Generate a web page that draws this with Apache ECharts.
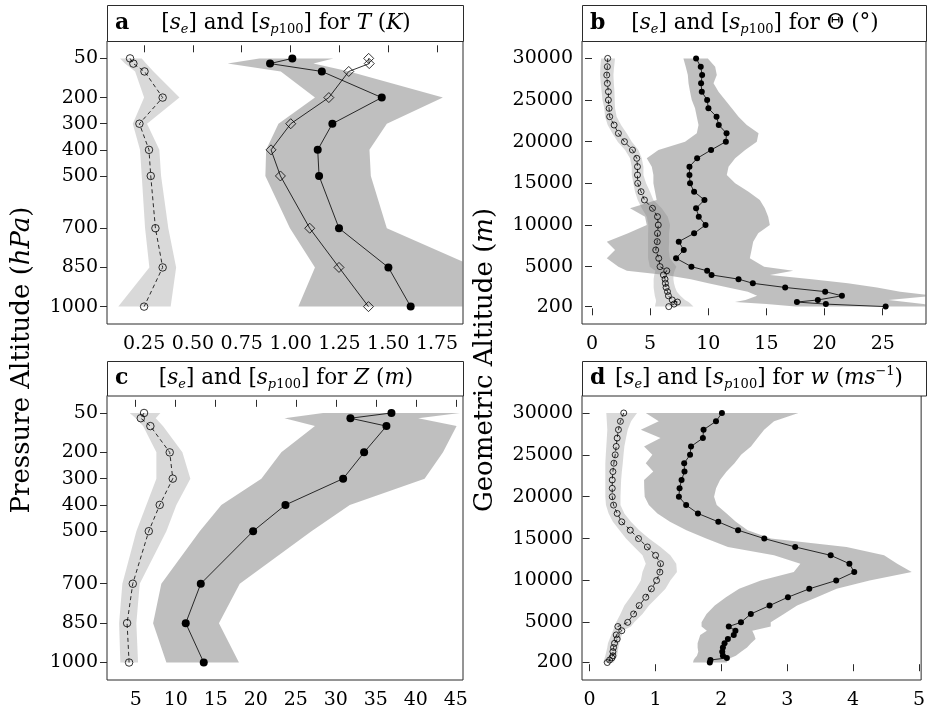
<!DOCTYPE html>
<html>
<head>
<meta charset="utf-8">
<title>Ensemble spread and p100 spread profiles</title>
<script src="https://cdn.jsdelivr.net/npm/echarts@6.0.0/dist/echarts.min.js"></script>
<style>
  html, body { margin: 0; padding: 0; background: #fff; }
  #chart { width: 928px; height: 715px; }
</style>
</head>
<body>
<div id="chart"></div>
<script>
// ---------- vertical levels ----------
const pLevels = [50, 70, 100, 200, 300, 400, 500, 700, 850, 1000];
const altLevels = [30000, 29000, 28000, 27000, 26000, 25000, 24000, 23000, 22000, 21000,
  20000, 19000, 18000, 17000, 16000, 15000, 14000, 13000, 12000, 11000,
  10000, 9000, 8000, 7000, 6000, 5000, 4500, 4000, 3500, 3000,
  2500, 2000, 1500, 1000, 750, 500, 200];

// ---------- tick labels ----------
const pTicks = [50, 200, 300, 400, 500, 700, 850, 1000];
const altTicks = [200, 5000, 10000, 15000, 20000, 25000, 30000];
const tTicks = [0.25, 0.5, 0.75, 1.0, 1.25, 1.5, 1.75];
const thetaTicks = [0, 5, 10, 15, 20, 25];
const zTicks = [5, 10, 15, 20, 25, 30, 35, 40, 45];
const wTicks = [0, 1, 2, 3, 4, 5];

// ---------- a: temperature T (K) ----------
const tSe     = [0.178, 0.195, 0.252, 0.345, 0.226, 0.275, 0.284, 0.308, 0.345, 0.250];
const tSeLo   = [0.127, 0.152, 0.204, 0.250, 0.192, 0.229, 0.238, 0.255, 0.277, 0.118];
const tSeHi   = [0.238, 0.260, 0.298, 0.431, 0.265, 0.328, 0.337, 0.374, 0.414, 0.386];
const tP100   = [1.009, 0.895, 1.160, 1.467, 1.214, 1.139, 1.146, 1.248, 1.501, 1.615];
const tP100d  = [1.400, 1.403, 1.298, 1.196, 1.001, 0.900, 0.948, 1.098, 1.248, 1.399];
const tBandLo = [0.840, 0.678, 0.950, 1.125, 0.938, 0.875, 0.871, 0.997, 1.125, 1.040];
const tBandHi = [1.219, 1.117, 1.300, 1.780, 1.493, 1.404, 1.411, 1.493, 1.950, 1.950];

// ---------- b: direction Theta (deg) ----------
const thSe = [1.35, 1.32, 1.27, 1.32, 1.41, 1.41, 1.47, 1.52, 1.90, 2.27,
  2.79, 3.48, 3.85, 3.91, 3.91, 3.93, 4.22, 4.51, 5.20, 5.63,
  5.70, 5.63, 5.61, 5.48, 5.74, 5.85, 6.43, 6.14, 6.28, 6.31,
  6.37, 6.49, 6.57, 6.90, 7.35, 7.05, 6.60];
const thSeLo = [0.78, 0.72, 0.69, 0.75, 0.83, 0.90, 1.06, 1.12, 1.35, 1.75,
  2.21, 2.84, 3.27, 3.42, 3.42, 3.56, 3.70, 3.93, 4.28, 4.71,
  4.85, 4.82, 4.82, 4.82, 4.82, 4.97, 5.45, 5.35, 5.30, 5.30,
  5.30, 5.35, 5.40, 5.50, 5.50, 5.45, 5.42];
const thSeHi = [1.98, 1.90, 1.84, 1.88, 1.93, 1.95, 1.98, 2.12, 2.50, 2.98,
  3.42, 3.99, 4.28, 4.42, 4.42, 4.65, 4.99, 5.28, 6.00, 6.51,
  6.71, 6.63, 6.63, 6.60, 6.69, 7.26, 7.10, 7.00, 7.00, 7.05,
  7.15, 7.30, 7.60, 8.00, 8.30, 8.50, 8.72];
const thP100 = [8.95, 9.35, 9.47, 9.38, 9.44, 9.90, 10.01, 10.71, 10.90, 11.57,
  11.51, 10.24, 9.04, 8.38, 8.38, 8.43, 8.78, 9.67, 8.95, 9.18,
  9.76, 8.78, 7.46, 7.89, 7.23, 8.55, 9.90, 10.28, 12.60, 13.83,
  16.61, 20.05, 21.49, 19.42, 17.62, 20.11, 25.25];
const thBandLo = [7.86, 8.06, 8.24, 8.30, 8.43, 8.58, 8.86, 9.01, 9.16, 9.01,
  8.00, 5.71, 4.71, 5.14, 5.28, 5.28, 5.42, 5.56, 3.27, 4.56,
  4.71, 3.10, 1.27, 1.98, 1.27, 2.27, 3.00, 6.30, 8.50, 10.00,
  11.70, 13.40, 14.20, 13.20, 12.30, 15.00, 17.50];
const thBandHi = [9.96, 10.59, 10.73, 10.45, 10.88, 11.45, 12.02, 12.60, 13.31, 14.32,
  14.17, 13.17, 12.31, 11.74, 11.59, 12.31, 13.46, 14.43, 14.86, 15.15,
  15.29, 14.29, 13.86, 13.72, 13.57, 14.80, 17.30, 15.30, 18.90, 22.00,
  24.50, 26.50, 29.50, 25.50, 27.00, 28.50, 30.50];

// ---------- c: geopotential height Z (m) ----------
const zSe     = [6.04, 5.63, 6.83, 9.25, 9.63, 8.00, 6.63, 4.63, 3.92, 4.17];
const zSeLo   = [4.25, 5.00, 5.92, 7.58, 7.58, 6.33, 5.08, 3.33, 2.92, 3.08];
const zSeHi   = [8.08, 7.50, 8.40, 10.83, 11.83, 10.08, 8.83, 5.50, 5.08, 5.29];
const zP100   = [36.96, 31.83, 36.33, 33.54, 30.92, 23.71, 19.67, 13.13, 11.25, 13.50];
const zBandLo = [28.42, 23.60, 27.40, 23.20, 20.70, 15.70, 13.00, 8.20, 7.17, 8.83];
const zBandHi = [45.50, 40.30, 45.10, 43.40, 41.10, 31.75, 26.96, 18.00, 15.40, 17.90];

// ---------- d: vertical wind w (m/s) ----------
const wSe = [0.519, 0.468, 0.438, 0.419, 0.404, 0.389, 0.369, 0.354, 0.344, 0.344,
  0.344, 0.364, 0.419, 0.489, 0.618, 0.743, 0.877, 1.002, 1.077, 1.067,
  1.017, 0.938, 0.853, 0.753, 0.668, 0.579, 0.429, 0.489, 0.404, 0.419,
  0.379, 0.364, 0.354, 0.354, 0.339, 0.304, 0.269];
const wSeLo = [0.254, 0.262, 0.269, 0.262, 0.254, 0.246, 0.239, 0.239, 0.239, 0.239,
  0.239, 0.249, 0.289, 0.354, 0.454, 0.553, 0.678, 0.803, 0.853, 0.803,
  0.778, 0.703, 0.618, 0.528, 0.469, 0.404, 0.379, 0.354, 0.329, 0.304,
  0.279, 0.269, 0.254, 0.239, 0.229, 0.220, 0.204];
const wSeHi = [0.720, 0.630, 0.579, 0.553, 0.528, 0.515, 0.504, 0.490, 0.479, 0.474,
  0.469, 0.469, 0.528, 0.628, 0.753, 0.902, 1.077, 1.226, 1.316, 1.326,
  1.226, 1.152, 1.027, 0.902, 0.803, 0.678, 0.628, 0.504, 0.489, 0.469,
  0.454, 0.438, 0.429, 0.419, 0.404, 0.379, 0.370];
const wP100 = [2.009, 1.919, 1.730, 1.720, 1.540, 1.525, 1.436, 1.441, 1.396, 1.366,
  1.356, 1.466, 1.645, 1.954, 2.254, 2.652, 3.121, 3.660, 3.944, 4.018,
  3.744, 3.335, 3.011, 2.732, 2.448, 2.298, 2.113, 2.214, 2.189, 2.099,
  2.049, 2.024, 2.014, 2.024, 2.084, 1.835, 1.825];
const wBandLo = [0.853, 1.050, 0.778, 1.077, 0.827, 0.953, 0.853, 0.967, 0.827, 0.830,
  0.837, 0.900, 1.030, 1.220, 1.470, 1.770, 2.100, 2.800, 3.200, 3.100,
  2.600, 2.270, 2.070, 1.900, 1.775, 1.700, 1.700, 1.780, 1.680, 1.660,
  1.640, 1.640, 1.650, 1.630, 1.600, 1.580, 1.570];
const wBandHi = [3.170, 2.800, 2.650, 2.550, 2.450, 2.300, 2.200, 2.080, 1.980, 1.920,
  1.890, 1.930, 2.080, 2.220, 2.400, 2.750, 3.900, 4.470, 4.670, 4.890,
  4.250, 3.750, 3.450, 3.150, 2.950, 2.750, 2.750, 2.470, 2.500, 2.520,
  2.450, 2.390, 2.300, 2.220, 2.140, 2.100, 2.080];

// ---------- styling ----------
const FONT = 'DejaVu Serif';
const FRAME = '#2b2b2b';
const DARK_FILL = 'rgba(128,128,128,0.5)';
const LIGHT_FILL = 'rgba(128,128,128,0.3)';

// panel layout: plot areas and their title strips
const panels = [
  { left: 107, top: 41,    width: 356, height: 283,   stripTop: 5 },
  { left: 582, top: 41,    width: 344, height: 283,   stripTop: 5 },
  { left: 107, top: 395.5, width: 356, height: 284.5, stripTop: 361 },
  { left: 582, top: 395.5, width: 344, height: 284.5, stripTop: 361 }
];

const tickLabel = { fontFamily: FONT, fontSize: 19, color: '#000' };

function xAxisFor(idx, min, max, ticks, fmt) {
  return {
    type: 'value', gridIndex: idx, min: min, max: max, position: 'bottom',
    axisLine: { show: false },
    splitLine: { show: false },
    axisTick: { show: true, inside: false, length: 7, customValues: ticks,
      lineStyle: { color: FRAME, width: 1 } },
    axisLabel: Object.assign({ customValues: ticks, margin: 11,
      formatter: fmt || (v => String(v)) }, tickLabel)
  };
}

function yAxisFor(idx, min, max, ticks, inverse) {
  return {
    type: 'value', gridIndex: idx, min: min, max: max, inverse: inverse,
    axisLine: { show: false },
    splitLine: { show: false },
    axisTick: { show: true, inside: false, length: 7, customValues: ticks,
      lineStyle: { color: FRAME, width: 1 } },
    axisLabel: Object.assign({ customValues: ticks, margin: 9,
      formatter: v => String(v) }, tickLabel)
  };
}

function pairs(xs, levels) { return xs.map((x, i) => [x, levels[i]]); }

// shaded envelope between a low and a high profile
function band(idx, levels, lo, hi, fill, z) {
  return {
    type: 'custom', xAxisIndex: idx, yAxisIndex: idx, clip: true, silent: true, z: z,
    data: [[lo[0], levels[0]]],
    renderItem: function (params, api) {
      const pts = [];
      for (let i = 0; i < levels.length; i++) pts.push(api.coord([lo[i], levels[i]]));
      for (let i = levels.length - 1; i >= 0; i--) pts.push(api.coord([hi[i], levels[i]]));
      return { type: 'polygon', shape: { points: pts }, style: { fill: fill, stroke: null } };
    }
  };
}

function seLine(idx, xs, levels, size) {
  return {
    type: 'line', xAxisIndex: idx, yAxisIndex: idx, z: 5, silent: true,
    data: pairs(xs, levels),
    symbol: 'circle', symbolSize: size,
    lineStyle: { color: '#000', width: 0.8, type: [4, 3] },
    itemStyle: { color: 'rgba(0,0,0,0)', borderColor: '#000', borderWidth: 0.8 }
  };
}

function solidLine(idx, xs, levels, symbol, size, filled) {
  return {
    type: 'line', xAxisIndex: idx, yAxisIndex: idx, z: 6, silent: true,
    data: pairs(xs, levels),
    symbol: symbol, symbolSize: size,
    lineStyle: { color: '#000', width: 0.8 },
    itemStyle: filled
      ? { color: '#000', borderColor: '#000', borderWidth: 0 }
      : { color: 'rgba(0,0,0,0)', borderColor: '#000', borderWidth: 0.8 }
  };
}

// ---------- title strips ----------
const richBase = {
  n:    { fontFamily: FONT, fontSize: 21.5, fill: '#000', lineHeight: 26 },
  i:    { fontFamily: FONT, fontSize: 21.5, fontStyle: 'italic', fill: '#000', lineHeight: 26 },
  sub:  { fontFamily: FONT, fontSize: 13, fontStyle: 'italic', fill: '#000', verticalAlign: 'bottom', lineHeight: 11 },
  subn: { fontFamily: FONT, fontSize: 13, fill: '#000', verticalAlign: 'bottom', lineHeight: 11 },
  sup:  { fontFamily: FONT, fontSize: 13, fill: '#000', verticalAlign: 'top', lineHeight: 14 }
};
const spreadText = '{n|[}{i|s}{sub|e}{n|] and [}{i|s}{sub|p}{subn|100}{n|] for }';
const panelTitles = [
  { letter: 'a', text: spreadText + '{i|T}{n| (}{i|K}{n|)}', shift: 1 },
  { letter: 'b', text: spreadText + '{n|Θ (°)}', shift: 1 },
  { letter: 'c', text: spreadText + '{i|Z}{n| (}{i|m}{n|)}', shift: 1 },
  { letter: 'd', text: spreadText + '{i|w}{n| (}{i|ms}{sup|−1}{n|)}', shift: 5 }
];

const graphics = [];
panels.forEach((p, k) => {
  const h = p.top - p.stripTop;
  graphics.push({
    type: 'rect', z: 10, silent: true,
    shape: { x: p.left + 0.5, y: p.stripTop + 0.5, width: p.width, height: h },
    style: { fill: '#fff', stroke: FRAME, lineWidth: 1 }
  });
  graphics.push({
    type: 'text', z: 11, silent: true,
    x: p.left + 8, y: p.stripTop + h / 2,
    style: { text: panelTitles[k].letter, fontFamily: FONT, fontSize: 22, fontWeight: 'bold',
      fill: '#000', align: 'left', verticalAlign: 'middle' }
  });
  graphics.push({
    type: 'text', z: 11, silent: true,
    x: p.left + p.width / 2 + panelTitles[k].shift, y: p.stripTop + h / 2,
    style: { text: panelTitles[k].text, rich: richBase, align: 'center', verticalAlign: 'middle' }
  });
});

// shared vertical axis titles
const axisTitleRich = {
  n: { fontFamily: FONT, fontSize: 26, fill: '#000' },
  i: { fontFamily: FONT, fontSize: 26, fontStyle: 'italic', fill: '#000' }
};
graphics.push({
  type: 'text', silent: true, x: 22, y: 360, rotation: Math.PI / 2,
  style: { text: '{n|Pressure Altitude (}{i|hPa}{n|)}', rich: axisTitleRich,
    align: 'center', verticalAlign: 'middle' }
});
graphics.push({
  type: 'text', silent: true, x: 485, y: 360, rotation: Math.PI / 2,
  style: { text: '{n|Geometric Altitude (}{i|m}{n|)}', rich: axisTitleRich,
    align: 'center', verticalAlign: 'middle' }
});

const option = {
  animation: false,
  backgroundColor: '#fff',
  grid: panels.map(p => ({
    left: p.left, top: p.top, width: p.width, height: p.height,
    show: true, borderColor: FRAME, borderWidth: 1, backgroundColor: 'rgba(0,0,0,0)',
    containLabel: false
  })),
  xAxis: [
    xAxisFor(0, 0.06, 1.883, tTicks, v => v.toFixed(2)),
    xAxisFor(1, -0.86, 28.72, thetaTicks),
    xAxisFor(2, 1.41, 45.9, zTicks),
    xAxisFor(3, -0.115, 5.033, wTicks)
  ],
  yAxis: [
    yAxisFor(0, -16.5, 1066.5, pTicks, true),
    yAxisFor(1, -1886, 32086, altTicks, false),
    yAxisFor(2, -16.5, 1066.5, pTicks, true),
    yAxisFor(3, -1886, 32086, altTicks, false)
  ],
  series: [
    // a
    band(0, pLevels, tBandLo, tBandHi, DARK_FILL, 1),
    band(0, pLevels, tSeLo, tSeHi, LIGHT_FILL, 2),
    seLine(0, tSe, pLevels, 7.5),
    solidLine(0, tP100, pLevels, 'circle', 8, true),
    solidLine(0, tP100d, pLevels, 'diamond', 10, false),
    // b
    band(1, altLevels, thBandLo, thBandHi, DARK_FILL, 1),
    band(1, altLevels, thSeLo, thSeHi, LIGHT_FILL, 2),
    seLine(1, thSe, altLevels, 6),
    solidLine(1, thP100, altLevels, 'circle', 6, true),
    // c
    band(2, pLevels, zBandLo, zBandHi, DARK_FILL, 1),
    band(2, pLevels, zSeLo, zSeHi, LIGHT_FILL, 2),
    seLine(2, zSe, pLevels, 7.5),
    solidLine(2, zP100, pLevels, 'circle', 8, true),
    // d
    band(3, altLevels, wBandLo, wBandHi, DARK_FILL, 1),
    band(3, altLevels, wSeLo, wSeHi, LIGHT_FILL, 2),
    seLine(3, wSe, altLevels, 6),
    solidLine(3, wP100, altLevels, 'circle', 6, true)
  ],
  graphic: graphics
};

const chart = echarts.init(document.getElementById('chart'), null, { renderer: 'canvas' });
chart.setOption(option);
</script>
</body>
</html>
